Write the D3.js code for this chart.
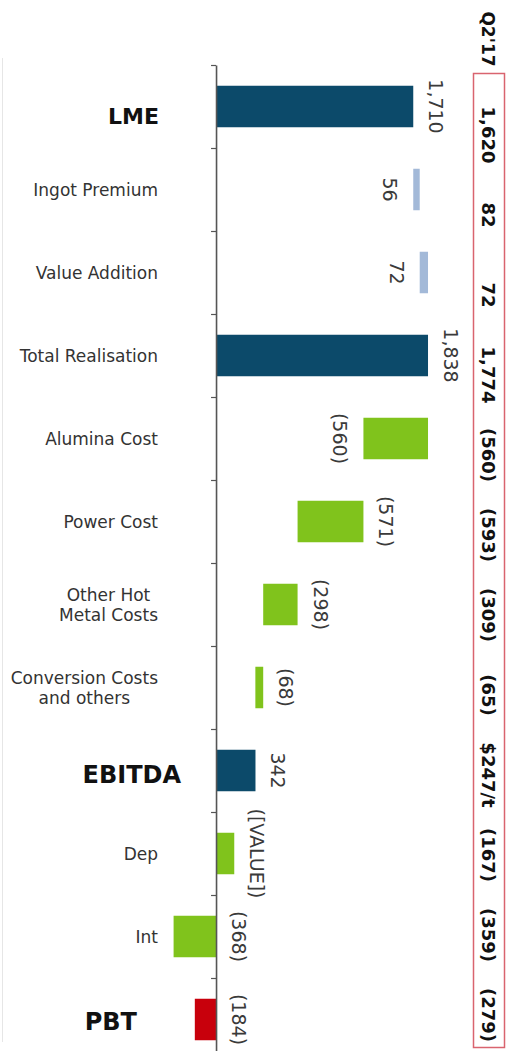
<!DOCTYPE html>
<html>
<head>
<meta charset="utf-8">
<script src="https://cdn.jsdelivr.net/npm/d3@7"></script>
<style>
body { margin: 0; background: #fff; }
svg { display: block; font-family: 'DejaVu Sans', Verdana, sans-serif; }
</style>
</head>
<body>
<svg width="506" height="1051"></svg>
<script>
'use strict';

// waterfall steps, top to bottom
var categories = ['LME', 'Ingot Premium', 'Value Addition', 'Total Realisation', 'Alumina Cost', 'Power Cost',
  'Other Hot\nMetal Costs', 'Conversion Costs\nand others', 'EBITDA', 'Dep', 'Int', 'PBT'];
var barFrom = [0, 1710, 1766, 0, 1838, 1278, 707, 409, 0, 0, 0, 0];
var barTo = [1710, 1766, 1838, 1838, 1278, 707, 409, 341, 342, 158, -368, -184];
var valueLabels = ['1,710', '56', '72', '1,838', '(560)', '(571)', '(298)', '(68)', '342', '([VALUE])', '(368)', '(184)'];
var kinds = ['total', 'up', 'up', 'total', 'down', 'down', 'down', 'down', 'total', 'down', 'down', 'result'];

// previous quarter column on the right
var prevHeader = "Q2'17";
var prevValues = ['1,620', '82', '72', '1,774', '(560)', '(593)', '(309)', '(65)', '$247/t', '(167)', '(359)', '(279)'];

var svg = d3.select('svg');

var color = {total: '#0c4a6a', up: '#a3b9d8', down: '#80c31c', result: '#c8000c'};

// labels drawn left of the bar instead of right
var leftLabels = ['Ingot Premium', 'Value Addition', 'Alumina Cost'];

// big bold headings sit a bit apart from the rest
var boldLabels = {
  'LME': {right: 159, dy: 10, size: 22},
  'EBITDA': {right: 181, dy: 4, size: 24},
  'PBT': {right: 137, dy: 2, size: 24}
};

var rows = categories.map(function(c, i) {
  return {name: c, i: i, from: barFrom[i], to: barTo[i], label: valueLabels[i], kind: kinds[i]};
});

var y = d3.scaleBand()
  .domain(d3.range(categories.length))
  .range([65, 1061])
  .paddingInner(0.5)
  .paddingOuter(0.25);

var yTicks = d3.scaleLinear().domain([0, categories.length]).range([65, 1061]);

var x = d3.scaleLinear().domain([-400, 2000]).range([169.9, 446.7]);

// faint slide border on the left
svg.append('line')
  .attr('x1', 2.5).attr('x2', 2.5)
  .attr('y1', 58).attr('y2', 1042)
  .attr('stroke', '#e6e6e6');

/* bars */
svg.selectAll('.bar')
  .data(rows)
  .enter()
  .append('rect')
  .attr('class', 'bar')
  .attr('x', function(d) { return x(Math.min(d.from, d.to)); })
  .attr('width', function(d) { return Math.abs(x(d.to) - x(d.from)); })
  .attr('y', function(d) { return y(d.i); })
  .attr('height', y.bandwidth())
  .attr('fill', function(d) { return color[d.kind]; });

/* axis at zero, ticks between the steps */
var axis = svg.append('g')
  .attr('transform', 'translate(' + x(0) + ',0)')
  .call(d3.axisLeft(yTicks)
    .tickValues(d3.range(categories.length))
    .tickSize(5)
    .tickSizeOuter(0)
    .tickFormat(''));
axis.select('.domain').attr('stroke', '#555').attr('stroke-width', 1.6);
axis.selectAll('.tick line').attr('stroke', '#555').attr('stroke-width', 1.2);

/* value labels, rotated */
svg.selectAll('.value')
  .data(rows)
  .enter()
  .append('text')
  .attr('class', 'value')
  .attr('transform', function(d) {
    var lo = x(Math.min(d.from, d.to));
    var hi = x(Math.max(d.from, d.to));
    var cx = leftLabels.indexOf(d.name) >= 0 ? lo - 23 : hi + 23;
    return 'translate(' + cx + ',' + (y(d.i) + y.bandwidth() / 2) + ') rotate(90)';
  })
  .attr('text-anchor', 'middle')
  .attr('dominant-baseline', 'central')
  .style('font-size', '19px')
  .style('fill', '#3a3a3a')
  .text(function(d) { return d.label; });

/* category labels */
rows.forEach(function(d) {
  var cy = y(d.i) + y.bandwidth() / 2;
  var bold = boldLabels[d.name];
  if (bold) {
    svg.append('text')
      .attr('x', bold.right)
      .attr('y', cy + bold.dy)
      .attr('text-anchor', 'end')
      .attr('dominant-baseline', 'central')
      .style('font-size', bold.size + 'px')
      .style('font-weight', 'bold')
      .style('fill', '#111')
      .text(d.name);
    return;
  }
  var lines = d.name.split('\n');
  var t = svg.append('text')
    .attr('text-anchor', 'middle')
    .style('font-size', '17px')
    .style('fill', '#333');
  var spans = t.selectAll('tspan')
    .data(lines)
    .enter()
    .append('tspan')
    .attr('dominant-baseline', 'central')
    .attr('y', function(l, j) { return cy + (j - (lines.length - 1) / 2) * 20; })
    .text(function(l) { return l; });
  var w = 0;
  spans.each(function() { w = Math.max(w, this.getComputedTextLength()); });
  spans.attr('x', 158 - w / 2);
});

/* previous quarter box */
var py = d3.scalePoint().domain(d3.range(prevValues.length)).range([135, 1015]);

svg.append('rect')
  .attr('x', 473.5).attr('y', 73.5)
  .attr('width', 31).attr('height', 974)
  .attr('fill', 'none')
  .attr('stroke', '#d9646f')
  .attr('stroke-width', 1.5);

svg.append('text')
  .attr('transform', 'translate(488,39) rotate(90)')
  .attr('text-anchor', 'middle')
  .attr('dominant-baseline', 'central')
  .style('font-size', '17px')
  .style('font-weight', 'bold')
  .style('fill', '#111')
  .text(prevHeader);

svg.selectAll('.prev')
  .data(prevValues)
  .enter()
  .append('text')
  .attr('class', 'prev')
  .attr('transform', function(d, i) { return 'translate(488,' + py(i) + ') rotate(90)'; })
  .attr('text-anchor', 'middle')
  .attr('dominant-baseline', 'central')
  .style('font-size', '18px')
  .style('font-weight', 'bold')
  .style('fill', '#111')
  .text(function(d) { return d; });
</script>
</body>
</html>
